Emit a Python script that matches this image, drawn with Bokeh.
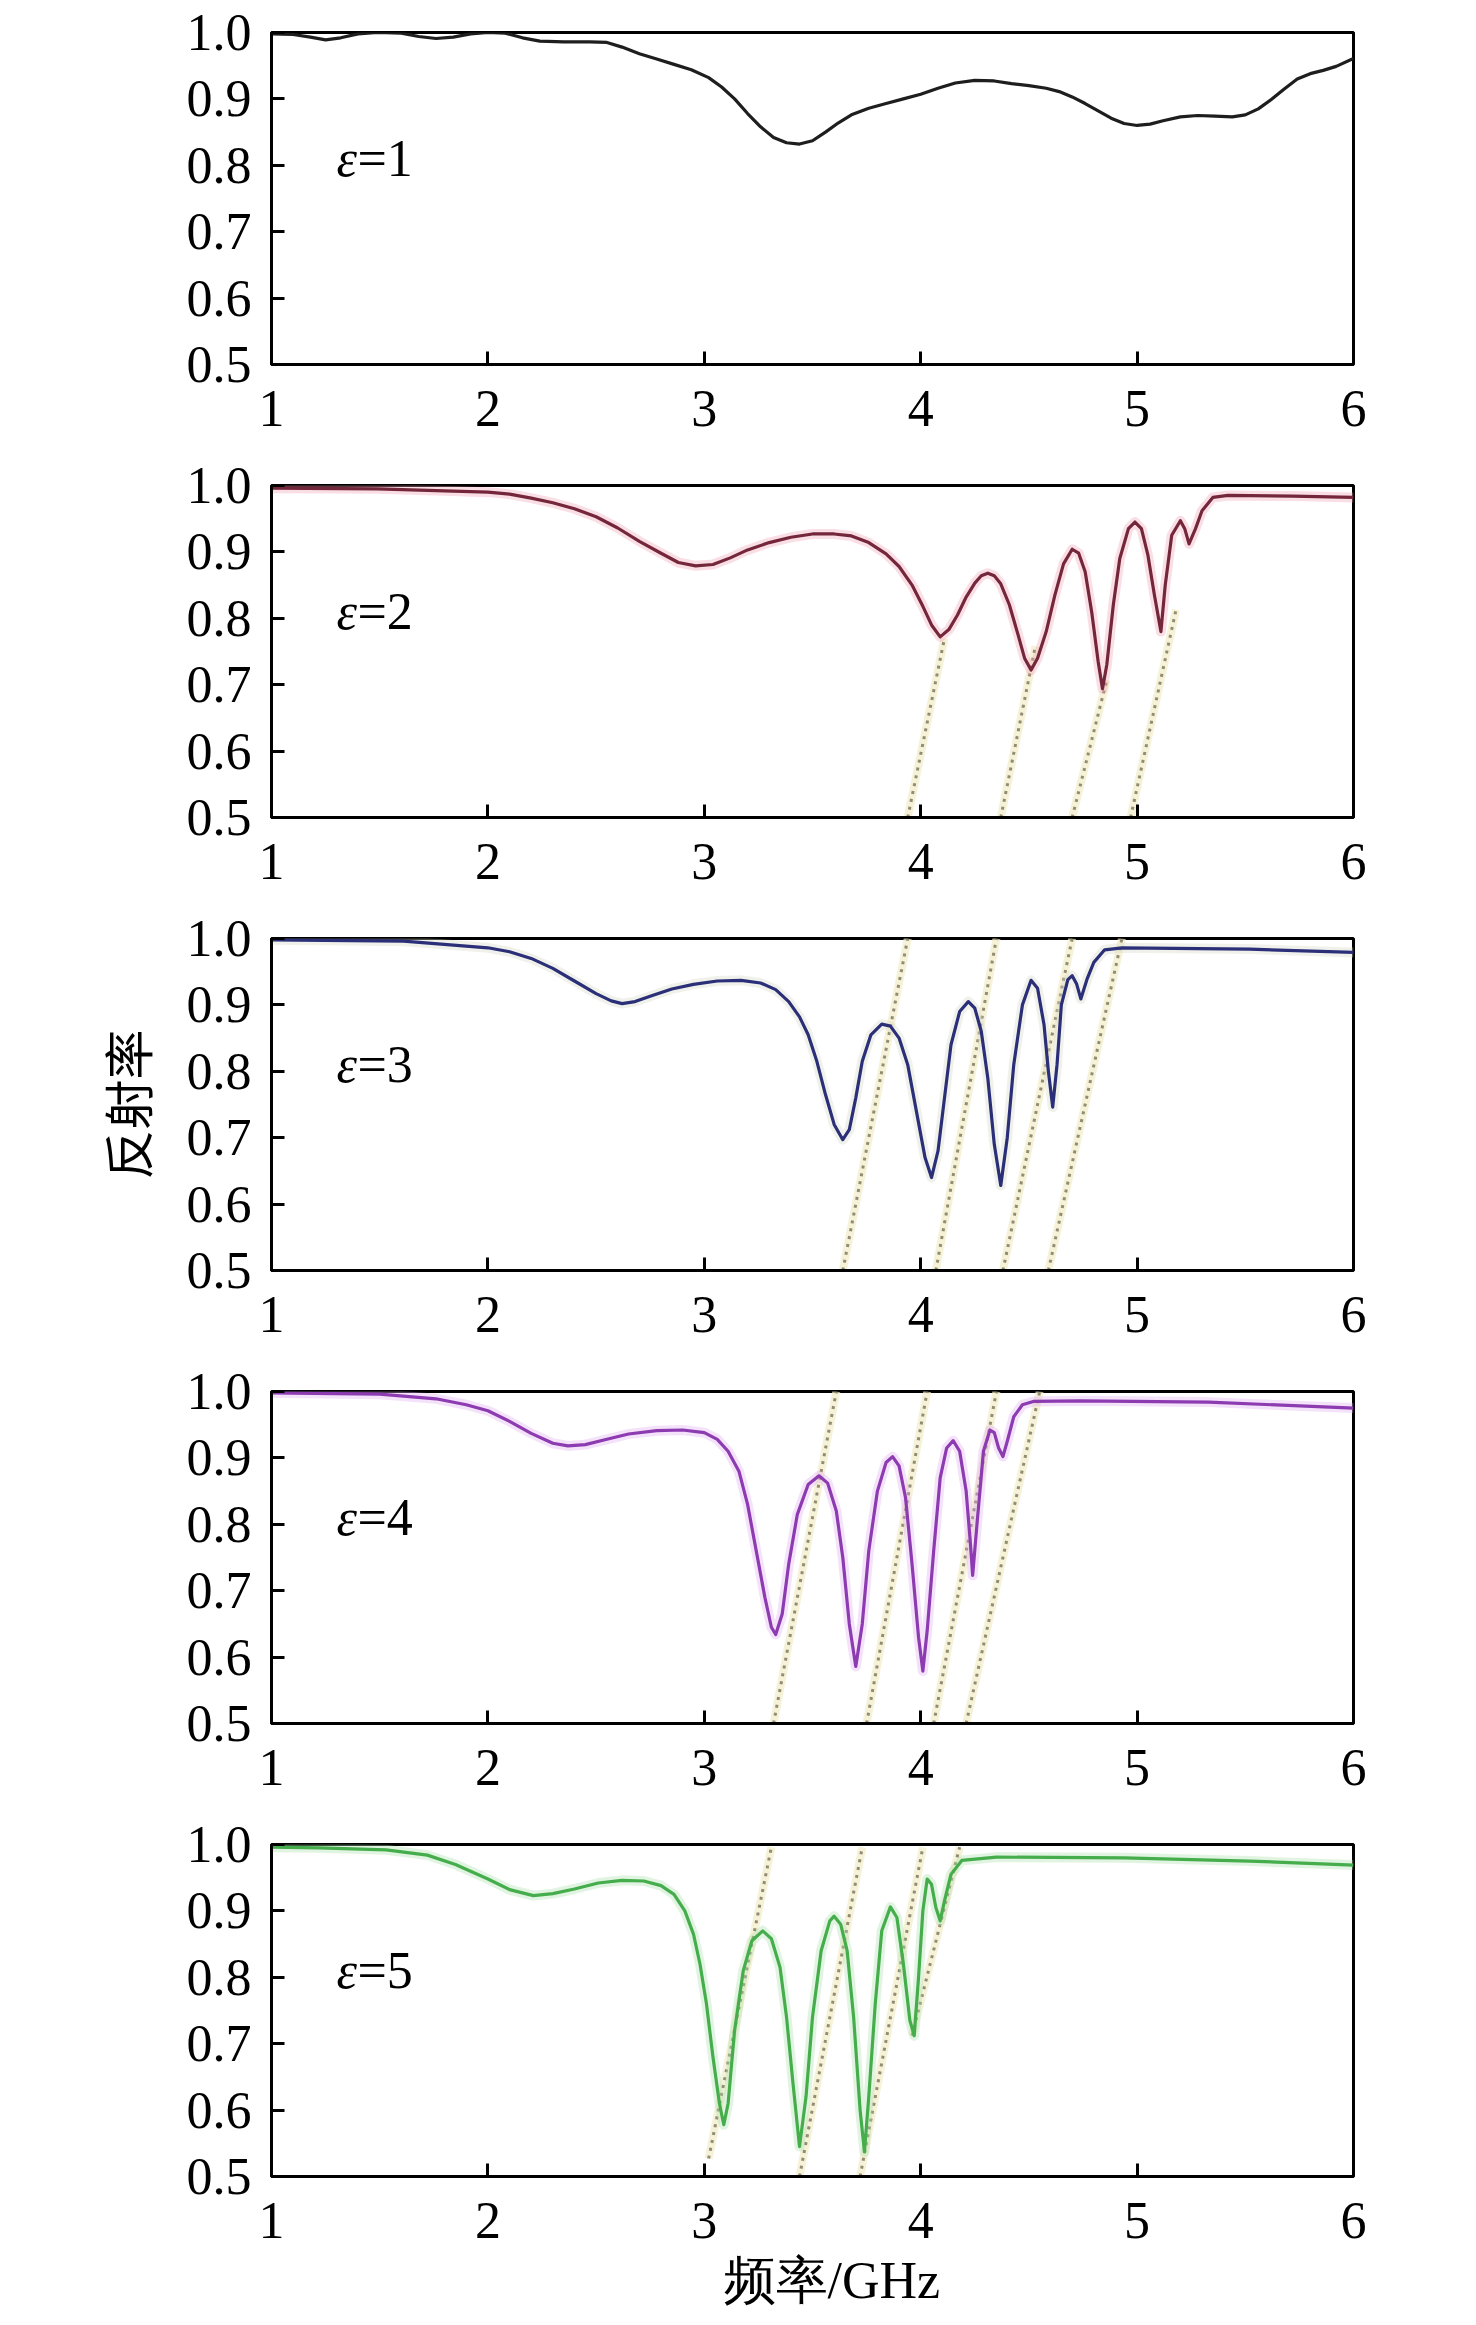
from bokeh.plotting import figure
from bokeh.layouts import column
from bokeh.models import FixedTicker, PrintfTickFormatter, Label, Range1d, Title
from bokeh.embed import file_html
from bokeh.resources import INLINE

# ---------------- data ----------------
eps_labels = ["1", "2", "3", "4", "5"]
x_ticks = [1, 2, 3, 4, 5, 6]
y_ticks = [0.5, 0.6, 0.7, 0.8, 0.9, 1.0]

freq_e1 = [1.00, 1.10, 1.18, 1.25, 1.32, 1.40, 1.49, 1.60, 1.68, 1.76, 1.84, 1.92, 2.00, 2.08, 2.16,
           2.24, 2.35, 2.47, 2.55, 2.62, 2.70, 2.78, 2.86, 2.94, 3.02, 3.08, 3.14, 3.20, 3.26, 3.32,
           3.38, 3.44, 3.50, 3.56, 3.62, 3.68, 3.76, 3.84, 3.92, 4.00, 4.08, 4.16, 4.25, 4.34, 4.42,
           4.50, 4.58, 4.64, 4.70, 4.76, 4.82, 4.88, 4.94, 5.00, 5.06, 5.12, 5.20, 5.28, 5.36, 5.44,
           5.50, 5.56, 5.62, 5.68, 5.74, 5.80, 5.86, 5.92, 6.00]
refl_e1 = [0.998, 0.997, 0.993, 0.989, 0.992, 0.998, 1.000, 0.999, 0.994, 0.991, 0.993, 0.998, 1.000, 0.999, 0.992,
           0.987, 0.986, 0.986, 0.985, 0.978, 0.968, 0.960, 0.952, 0.944, 0.932, 0.918, 0.900, 0.878, 0.858, 0.842,
           0.834, 0.832, 0.837, 0.850, 0.864, 0.876, 0.886, 0.893, 0.900, 0.907, 0.916, 0.924, 0.928, 0.927, 0.923,
           0.920, 0.916, 0.911, 0.903, 0.893, 0.882, 0.871, 0.863, 0.860, 0.862, 0.867, 0.873, 0.875, 0.874, 0.873,
           0.876, 0.885, 0.899, 0.915, 0.930, 0.938, 0.943, 0.949, 0.961]

freq_e2 = [1.00, 1.49, 1.80, 2.00, 2.10, 2.20, 2.30, 2.40, 2.50, 2.60, 2.70, 2.80, 2.88, 2.96, 3.04,
           3.12, 3.20, 3.30, 3.40, 3.50, 3.60, 3.68, 3.76, 3.84, 3.90, 3.96, 4.01, 4.05, 4.09, 4.13,
           4.17, 4.21, 4.25, 4.28, 4.31, 4.34, 4.37, 4.41, 4.45, 4.48, 4.51, 4.54, 4.58, 4.62, 4.66,
           4.70, 4.73, 4.76, 4.79, 4.82, 4.84, 4.86, 4.89, 4.92, 4.96, 4.99, 5.02, 5.05, 5.08, 5.11,
           5.13, 5.16, 5.20, 5.22, 5.24, 5.27, 5.30, 5.35, 5.42, 5.72, 6.00]
refl_e2 = [0.996, 0.995, 0.992, 0.990, 0.987, 0.981, 0.974, 0.965, 0.953, 0.936, 0.916, 0.898, 0.884, 0.879, 0.881,
           0.891, 0.903, 0.914, 0.922, 0.927, 0.927, 0.924, 0.914, 0.897, 0.878, 0.850, 0.818, 0.790, 0.772, 0.783,
           0.805, 0.832, 0.853, 0.864, 0.868, 0.864, 0.852, 0.820, 0.775, 0.740, 0.722, 0.740, 0.780, 0.835, 0.882,
           0.904, 0.898, 0.870, 0.810, 0.735, 0.694, 0.730, 0.820, 0.890, 0.935, 0.945, 0.935, 0.895, 0.835, 0.780,
           0.850, 0.925, 0.947, 0.935, 0.912, 0.935, 0.962, 0.982, 0.985, 0.984, 0.982]

freq_e3 = [1.00, 1.61, 2.00, 2.10, 2.20, 2.30, 2.40, 2.50, 2.57, 2.62, 2.68, 2.76, 2.85, 2.95, 3.06,
           3.17, 3.26, 3.33, 3.39, 3.44, 3.48, 3.52, 3.56, 3.60, 3.64, 3.67, 3.70, 3.73, 3.77, 3.82,
           3.86, 3.90, 3.94, 3.98, 4.02, 4.05, 4.08, 4.11, 4.14, 4.18, 4.22, 4.25, 4.28, 4.31, 4.34,
           4.37, 4.40, 4.43, 4.47, 4.51, 4.54, 4.57, 4.59, 4.61, 4.63, 4.65, 4.68, 4.70, 4.72, 4.74,
           4.77, 4.80, 4.85, 4.93, 5.52, 6.00]
refl_e3 = [0.998, 0.996, 0.986, 0.980, 0.970, 0.955, 0.936, 0.917, 0.906, 0.902, 0.905, 0.914, 0.924, 0.931, 0.936,
           0.937, 0.933, 0.923, 0.905, 0.882, 0.855, 0.815, 0.765, 0.720, 0.697, 0.712, 0.760, 0.815, 0.855, 0.871,
           0.868, 0.850, 0.810, 0.740, 0.670, 0.640, 0.680, 0.760, 0.840, 0.890, 0.905, 0.895, 0.860, 0.790, 0.690,
           0.628, 0.700, 0.810, 0.900, 0.937, 0.925, 0.870, 0.800, 0.746, 0.810, 0.900, 0.938, 0.944, 0.932, 0.909,
           0.940, 0.964, 0.983, 0.986, 0.984, 0.979]

freq_e4 = [1.00, 1.50, 1.76, 1.90, 2.00, 2.10, 2.20, 2.30, 2.37, 2.45, 2.55, 2.65, 2.78, 2.90, 3.00,
           3.06, 3.11, 3.16, 3.20, 3.24, 3.28, 3.31, 3.33, 3.36, 3.39, 3.43, 3.48, 3.53, 3.57, 3.61,
           3.64, 3.67, 3.70, 3.73, 3.76, 3.80, 3.84, 3.87, 3.90, 3.93, 3.96, 3.99, 4.01, 4.03, 4.06,
           4.09, 4.12, 4.15, 4.18, 4.21, 4.23, 4.24, 4.26, 4.29, 4.32, 4.34, 4.36, 4.38, 4.40, 4.43,
           4.47, 4.52, 4.74, 5.33, 6.00]
refl_e4 = [0.998, 0.996, 0.989, 0.980, 0.971, 0.955, 0.937, 0.922, 0.918, 0.920, 0.928, 0.936, 0.941, 0.942, 0.938,
           0.928, 0.910, 0.880, 0.830, 0.760, 0.690, 0.645, 0.634, 0.665, 0.740, 0.815, 0.860, 0.873, 0.862, 0.820,
           0.750, 0.650, 0.586, 0.650, 0.760, 0.850, 0.893, 0.902, 0.888, 0.840, 0.740, 0.630, 0.579, 0.640, 0.760,
           0.870, 0.915, 0.926, 0.910, 0.850, 0.770, 0.723, 0.800, 0.910, 0.942, 0.938, 0.915, 0.902, 0.925, 0.962,
           0.980, 0.985, 0.986, 0.984, 0.975]

freq_e5 = [1.00, 1.22, 1.53, 1.72, 1.85, 2.00, 2.10, 2.21, 2.30, 2.40, 2.51, 2.62, 2.72, 2.80, 2.86,
           2.91, 2.95, 2.98, 3.01, 3.04, 3.07, 3.09, 3.11, 3.14, 3.18, 3.22, 3.27, 3.31, 3.35, 3.38,
           3.41, 3.44, 3.47, 3.50, 3.54, 3.58, 3.60, 3.63, 3.66, 3.69, 3.72, 3.74, 3.76, 3.79, 3.82,
           3.86, 3.89, 3.92, 3.95, 3.97, 3.99, 4.01, 4.03, 4.05, 4.07, 4.09, 4.11, 4.14, 4.19, 4.35,
           4.94, 5.52, 6.00]
refl_e5 = [0.996, 0.995, 0.992, 0.984, 0.970, 0.948, 0.932, 0.923, 0.926, 0.933, 0.942, 0.946, 0.945, 0.938, 0.925,
           0.900, 0.865, 0.820, 0.760, 0.680, 0.610, 0.578, 0.610, 0.720, 0.810, 0.855, 0.870, 0.858, 0.815, 0.740,
           0.640, 0.545, 0.620, 0.740, 0.840, 0.885, 0.892, 0.880, 0.840, 0.740, 0.600, 0.537, 0.620, 0.760, 0.870,
           0.906, 0.890, 0.820, 0.735, 0.712, 0.800, 0.900, 0.948, 0.940, 0.905, 0.885, 0.915, 0.955, 0.976, 0.981,
           0.980, 0.975, 0.969]

# dotted guide lines (start / end points) per panel
g2_x0 = [3.94, 4.37, 4.70, 4.97]; g2_y0 = [0.5, 0.5, 0.5, 0.5]
g2_x1 = [4.11, 4.53, 4.86, 5.18]; g2_y1 = [0.770, 0.758, 0.707, 0.813]
g3_x0 = [3.64, 4.07, 4.38, 4.59]; g3_y0 = [0.5, 0.5, 0.5, 0.5]
g3_x1 = [3.94, 4.35, 4.70, 4.93]; g3_y1 = [1.0, 1.0, 1.0, 1.0]
g4_x0 = [3.32, 3.75, 4.06, 4.21]; g4_y0 = [0.5, 0.5, 0.5, 0.5]
g4_x1 = [3.61, 4.03, 4.35, 4.55]; g4_y1 = [1.0, 1.0, 1.0, 1.0]
g5_x0 = [3.02, 3.44, 3.72, 3.96]; g5_y0 = [0.527, 0.5, 0.5, 0.712]
g5_x1 = [3.31, 3.73, 4.01, 4.18]; g5_y1 = [0.996, 0.996, 0.996, 0.996]

curves = [(freq_e1, refl_e1), (freq_e2, refl_e2), (freq_e3, refl_e3), (freq_e4, refl_e4), (freq_e5, refl_e5)]
guides = [None,
          (g2_x0, g2_y0, g2_x1, g2_y1),
          (g3_x0, g3_y0, g3_x1, g3_y1),
          (g4_x0, g4_y0, g4_x1, g4_y1),
          (g5_x0, g5_y0, g5_x1, g5_y1)]

# ---------------- styles ----------------
line_colors = ["#1e1e1e", "#74273a", "#2b2f78", "#8c3cb0", "#45ad4c"]
glow_colors = [None, "#f2a0b4", "#d8d8c8", "#e0a8f0", "#a8e0a8"]
SERIF = "Liberation Serif"
CJK = "Noto Sans CJK SC"
TICK_SIZE = "52px"

figs = []
for i, ((fx, ry), g) in enumerate(zip(curves, guides)):
    last = (i == len(curves) - 1)
    p = figure(frame_width=1082, frame_height=332,
               min_border_left=271, min_border_right=60,
               min_border_top=32, min_border_bottom=140 if last else 89,
               x_range=Range1d(1, 6), y_range=Range1d(0.5, 1.0),
               output_backend="svg", toolbar_location=None,
               background_fill_color="white", border_fill_color="white")
    p.grid.visible = False
    p.outline_line_color = "black"
    p.outline_line_width = 3
    p.outline_line_alpha = 1.0

    for ax in (p.xaxis[0], p.yaxis[0]):
        ax.axis_line_width = 3
        ax.axis_line_color = "black"
        ax.major_tick_in = 13
        ax.major_tick_out = 0
        ax.major_tick_line_width = 3
        ax.minor_tick_line_color = None
        ax.major_label_text_font = SERIF
        ax.major_label_text_font_size = TICK_SIZE
        ax.major_label_text_color = "black"
    p.xaxis.ticker = FixedTicker(ticks=x_ticks)
    p.yaxis.ticker = FixedTicker(ticks=y_ticks)
    p.yaxis.formatter = PrintfTickFormatter(format="%.1f")
    p.xaxis.major_label_standoff = 26
    p.yaxis.major_label_standoff = 20

    if g is not None:
        x0, y0, x1, y1 = g
        p.segment(x0=x0, y0=y0, x1=x1, y1=y1, line_color="#f2edc8", line_width=8, line_alpha=0.7)
        p.segment(x0=x0, y0=y0, x1=x1, y1=y1, line_color="#8c8670", line_width=3,
                  line_dash="3 5", line_alpha=0.95)

    if glow_colors[i] is not None:
        p.line(fx, ry, line_color=glow_colors[i], line_width=10, line_alpha=0.35, line_join="round")
    p.line(fx, ry, line_color=line_colors[i], line_width=3.2, line_join="round")

    p.add_layout(Label(x=1.30, y=0.81, text="ε", text_font=SERIF, text_font_style="italic",
                       text_font_size=TICK_SIZE, text_color="black", text_baseline="alphabetic"))
    p.add_layout(Label(x=1.30, y=0.81, x_offset=21, text="=" + eps_labels[i], text_font=SERIF,
                       text_font_size=TICK_SIZE, text_color="black", text_baseline="alphabetic"))

    if i == 2:
        p.yaxis.axis_label = "反射率"
        p.yaxis.axis_label_text_font = CJK
        p.yaxis.axis_label_text_font_size = "50px"
        p.yaxis.axis_label_text_font_style = "normal"
        p.yaxis.axis_label_text_color = "black"
        p.yaxis.axis_label_standoff = 22

    if last:
        p.add_layout(Title(text="频率/GHz", align="left", offset=452, text_font=SERIF,
                           text_font_size="52px", text_font_style="normal", text_color="black",
                           standoff=18), "below")
    figs.append(p)

layout = column(*figs, spacing=0)
open("out.html", "w").write(file_html(layout, INLINE))
